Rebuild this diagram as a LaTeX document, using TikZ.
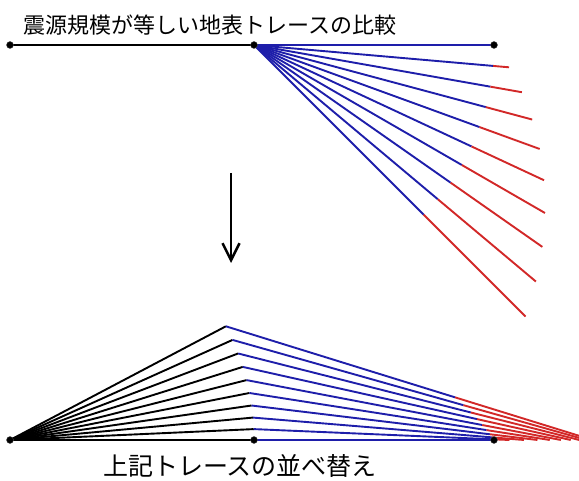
\documentclass[tikz,border=0pt]{standalone}
\usepackage{fontspec}
\newfontfamily\jp{Noto Sans CJK JP}
\usetikzlibrary{arrows.meta}
\definecolor{tblue}{RGB}{30,30,170}
\definecolor{tred}{RGB}{210,40,40}
\begin{document}
\begin{tikzpicture}[x=1pt,y=-1pt,
  blk/.style={line width=1.9pt,black},
  blu/.style={line width=1.9pt,tblue},
  rd/.style={line width=1.9pt,tred},
  dot/.style={circle,fill=black,draw=black!70,inner sep=0pt,minimum size=7pt},
  lbl/.style={inner sep=0pt}]
\useasboundingbox (0,0) rectangle (579,481);
\clip (0,0) rectangle (579,481);
% top
\coordinate (A) at (10,45);
\coordinate (B) at (254,45);
\coordinate (C) at (494,45);
\draw[blk] (A) -- (B);
\foreach \i in {9,8,...,1}{
  \pgfmathsetmacro\th{5*\i}
  \pgfmathsetmacro\R{16*\i}
  \path (B) ++(\th:240) coordinate (t\i) ++(\th:\R) coordinate (e\i);
  \draw[blu] (B) -- (t\i);
  \draw[rd] (t\i) -- (e\i);
}
\draw[blu] (B) -- (C);
% bottom
\coordinate (O) at (10,440);
\coordinate (B2) at (254,440);
\coordinate (C2) at (494,440);
\foreach \i in {9,8,...,1}{
  \pgfmathsetmacro\th{5*\i}
  \pgfmathsetmacro\R{16*\i}
  \pgfmathsetmacro\L{240+16*\i}
  \pgfmathsetmacro\ph{atan2(\L*sin(\th),244+\L*cos(\th))}
  \path (O) ++(-\ph:244) coordinate (p\i) ++(\th-\ph:240) coordinate (q\i) ++(\th-\ph:\R) coordinate (r\i);
  \draw[blk] (O) -- (p\i);
  \draw[blu] (p\i) -- (q\i);
  \draw[rd] (q\i) -- (r\i);
}
\draw[blk] (O) -- (B2);
\draw[blu] (B2) -- (C2);
% dots
\foreach \p in {A,B,C,O,B2,C2}{\node[dot] (d\p) at (\p) {};}
% arrow
\coordinate (a1) at (231,173);
\coordinate (a2) at (231,263);
\draw[line width=2.5pt,-{Straight Barb[length=17pt,width=17pt,line width=2.5pt]}] (a1) -- (a2);
% texts
\node[lbl,font=\jp\fontsize{22}{23}\selectfont] (title) at (210,25) {震源規模が等しい地表トレースの比較};
\node[lbl,font=\jp\fontsize{25}{25}\selectfont] (sub) at (240,466) {上記トレースの並べ替え};
\end{tikzpicture}
\end{document}
